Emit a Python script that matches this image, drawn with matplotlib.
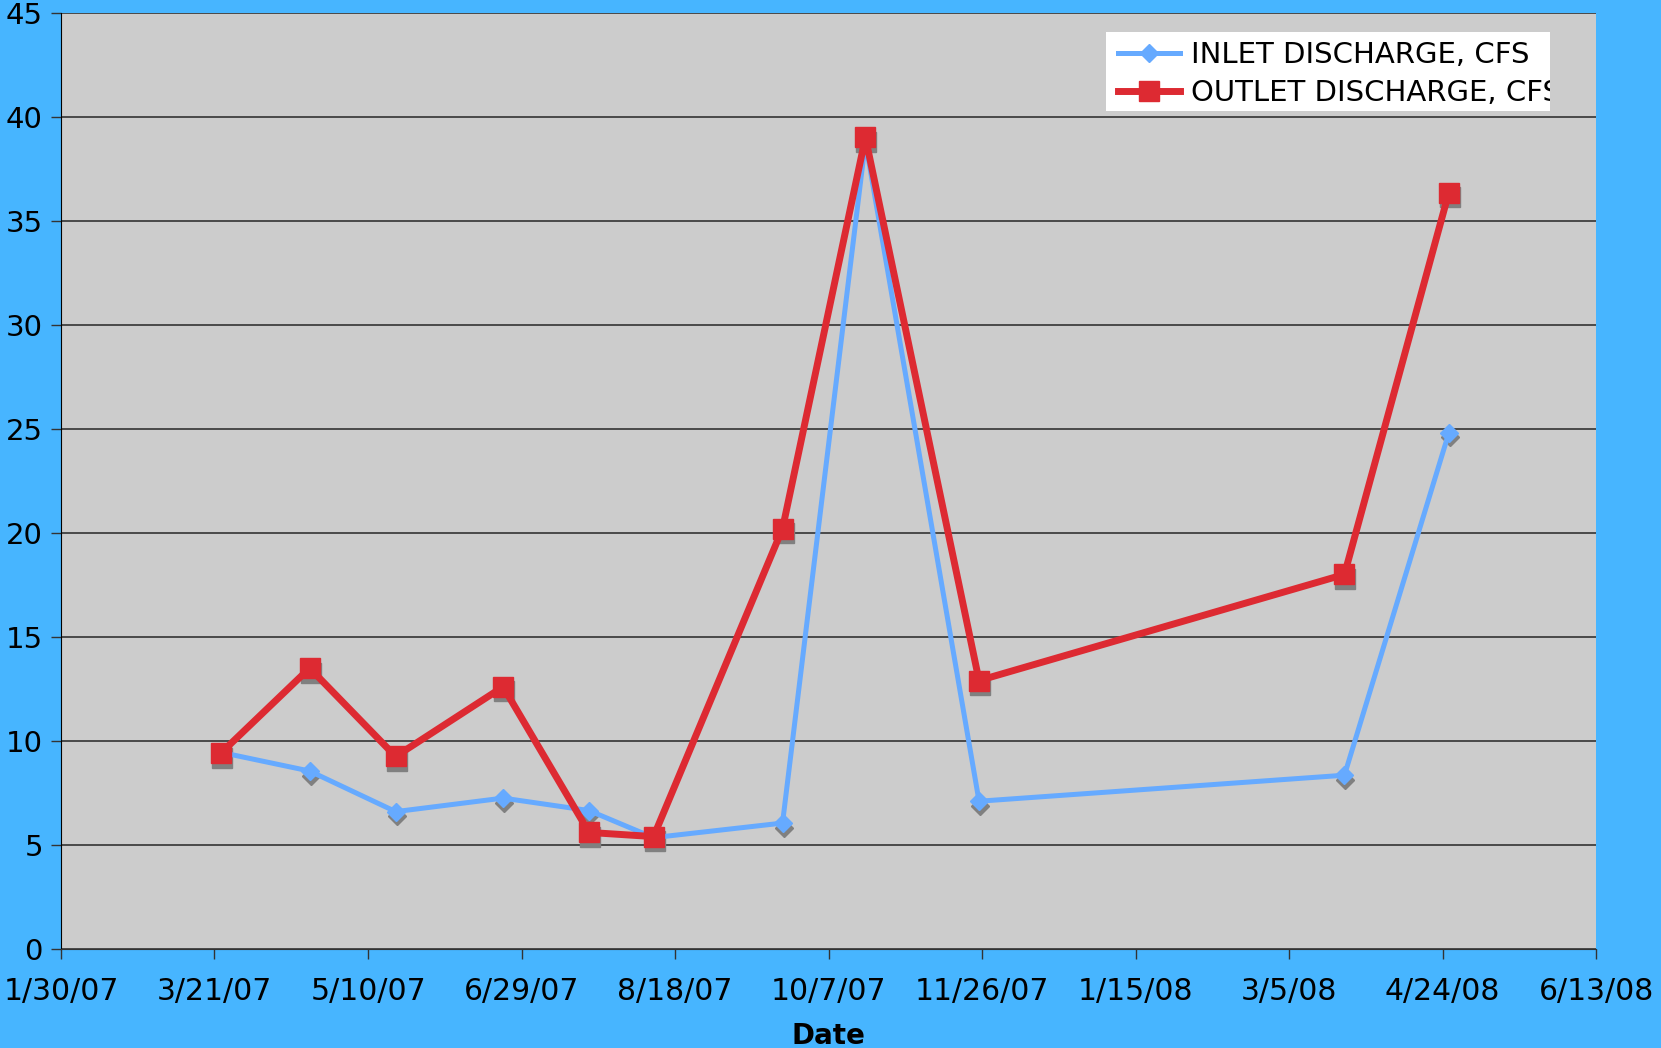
from datetime import datetime, timedelta
import matplotlib
matplotlib.use("Agg")
import matplotlib.pyplot as plt
import matplotlib.transforms as mtransforms
from matplotlib.patches import Rectangle

# fechas de muestreo y caudales (cfs)
fechas = ["2007-03-23", "2007-04-21", "2007-05-19", "2007-06-23", "2007-07-21",
          "2007-08-11", "2007-09-22", "2007-10-19", "2007-11-25", "2008-03-23",
          "2008-04-26"]
inlet = [9.45, 8.55, 6.6, 7.25, 6.65, 5.35, 6.05, 38.8, 7.1, 8.35, 24.8]
outlet = [9.4, 13.5, 9.25, 12.6, 5.6, 5.4, 20.2, 39.0, 12.9, 18.0, 36.35]

inicio_x = datetime(2007, 1, 30)
paso_dias = 50
n_ticks = 11
y_ticks = list(range(0, 50, 5))

fondo = "#47B5FF"
gris = "#CCCCCC"
azul = "#66AAFF"
rojo = "#DD2A32"
sombra = "#808080"

x = [datetime.strptime(f, "%Y-%m-%d") for f in fechas]
ticks_x = [inicio_x + timedelta(days=paso_dias * i) for i in range(n_ticks)]

fig = plt.figure(figsize=(16.61, 10.48), dpi=100, facecolor=fondo)
ax = fig.add_axes([0.0367, 0.0945, 0.9243, 0.8935])
ax.set_facecolor(gris)

# sombras de los marcadores
off = mtransforms.offset_copy(ax.transData, fig=fig, x=0.7, y=-3.3, units="points")
ax.plot(x, inlet, linestyle="none", marker="D", markersize=9.5, color=sombra,
        transform=off, zorder=2)
ax.plot(x, outlet, linestyle="none", marker="s", markersize=14, color=sombra,
        transform=off, zorder=2)

ax.plot(x, inlet, color=azul, lw=3.6, marker="D", markersize=9.5,
        label="INLET DISCHARGE, CFS", zorder=3)
ax.plot(x, outlet, color=rojo, lw=5, marker="s", markersize=14,
        label="OUTLET DISCHARGE, CFS", zorder=4)

ax.set_xlim(ticks_x[0], ticks_x[-1])
ax.set_ylim(0, 45)
ax.set_xticks(ticks_x)
ax.set_xticklabels([f"{d.month}/{d.day}/{d:%y}" for d in ticks_x])
ax.set_yticks(y_ticks)
ax.yaxis.grid(True, color="#333333", lw=1.2)
ax.set_axisbelow(True)
ax.tick_params(axis="x", length=7, width=1, color="#333333", labelsize=21.5, pad=13)
ax.tick_params(axis="y", length=7, width=1, color="#333333", labelsize=21, pad=6)
for s in ["top", "right"]:
    ax.spines[s].set_visible(False)
ax.spines["left"].set_color("black")
ax.spines["bottom"].set_color("#333333")
ax.set_xlabel("Date", fontsize=20, fontweight="bold", labelpad=12)

# leyenda con caja blanca recortada
caja = Rectangle((0.681, 0.895), 0.289, 0.084, transform=ax.transAxes,
                 facecolor="white", edgecolor="none", zorder=5)
ax.add_patch(caja)
leg = ax.legend(loc="upper left", bbox_to_anchor=(0.683, 0.979), frameon=False,
                fontsize=21, handlelength=2.1, handletextpad=0.4,
                labelspacing=0.36, borderaxespad=0, borderpad=0.3)
leg.set_zorder(6)
for t in leg.get_texts():
    t.set_clip_path(caja)

fig.savefig("out.png", dpi=100, facecolor=fondo)
